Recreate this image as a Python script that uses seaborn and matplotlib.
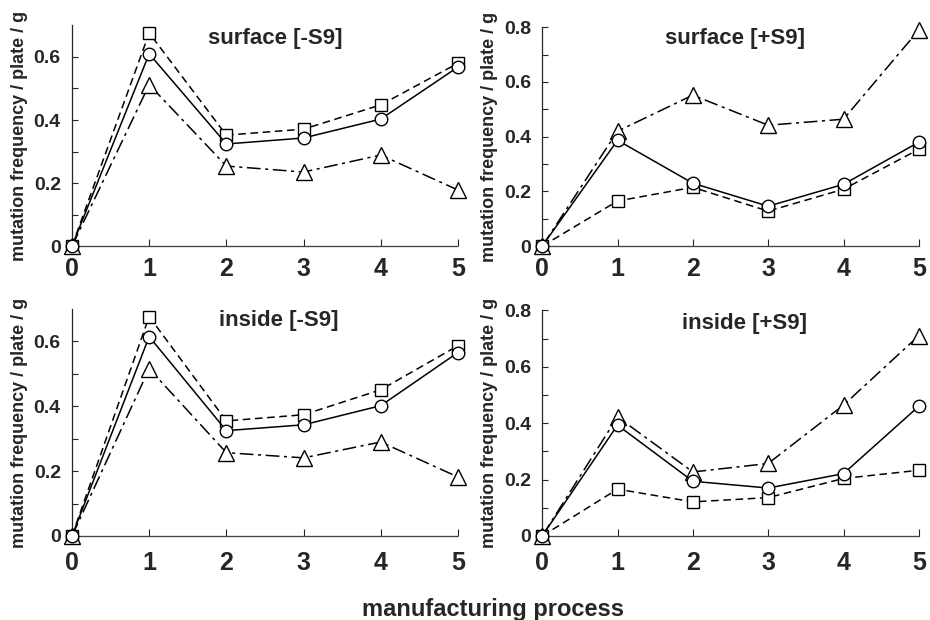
import matplotlib
matplotlib.use("Agg")
import matplotlib.pyplot as plt
import seaborn as sb
import numpy as np

# manufacturing process steps
steps = [0, 1, 2, 3, 4, 5]

# surface [-S9]
surf_minus_circle = [0, 0.61, 0.324, 0.343, 0.403, 0.568]
surf_minus_square = [0, 0.676, 0.352, 0.371, 0.448, 0.580]
surf_minus_triangle = [0, 0.512, 0.254, 0.235, 0.289, 0.178]

# surface [+S9]
surf_plus_circle = [0, 0.387, 0.230, 0.146, 0.226, 0.380]
surf_plus_square = [0, 0.165, 0.215, 0.128, 0.208, 0.354]
surf_plus_triangle = [0, 0.420, 0.552, 0.442, 0.464, 0.790]

# inside [-S9]
ins_minus_circle = [0, 0.615, 0.325, 0.343, 0.402, 0.566]
ins_minus_square = [0, 0.677, 0.355, 0.374, 0.451, 0.587]
ins_minus_triangle = [0, 0.516, 0.257, 0.241, 0.290, 0.182]

# inside [+S9]
ins_plus_circle = [0, 0.393, 0.194, 0.170, 0.221, 0.460]
ins_plus_square = [0, 0.166, 0.121, 0.136, 0.204, 0.233]
ins_plus_triangle = [0, 0.422, 0.227, 0.257, 0.464, 0.710]

titles = ["surface [-S9]", "surface [+S9]", "inside [-S9]", "inside [+S9]"]
ylabel = "mutation frequency / plate / g"
xlabel = "manufacturing process"

sb.set_style("ticks")
plt.rcParams["font.family"] = ["Liberation Sans", "DejaVu Sans"]
plt.rcParams["font.weight"] = "bold"

fig = plt.figure(figsize=(9.3, 6.2), dpi=100)
ax_tl = fig.add_axes([0.0774, 0.603, 0.415, 0.356])
ax_tr = fig.add_axes([0.583, 0.603, 0.405, 0.353])
ax_bl = fig.add_axes([0.0774, 0.1355, 0.415, 0.366])
ax_br = fig.add_axes([0.583, 0.1355, 0.405, 0.364])

panels = [
    (ax_tl, surf_minus_circle, surf_minus_square, surf_minus_triangle, 0.7, (0.526, 0.94), 8),
    (ax_tr, surf_plus_circle, surf_plus_square, surf_plus_triangle, 0.8, (0.512, 0.95), 8),
    (ax_bl, ins_minus_circle, ins_minus_square, ins_minus_triangle, 0.7, (0.536, 0.95), 11),
    (ax_br, ins_plus_circle, ins_plus_square, ins_plus_triangle, 0.8, (0.536, 0.94), 11),
]

dashdot = (0, (9, 3, 2, 3))
dashed = (0, (5, 3))

for (ax, circ, sq, tri, ytop, tpos, xpad), title in zip(panels, titles):
    sb.lineplot(x=steps, y=sq, ax=ax, color="black", linewidth=1.1, linestyle=dashed,
                marker="s", markersize=9, markerfacecolor="white", markeredgecolor="black",
                markeredgewidth=1.0, clip_on=False, zorder=3)
    sb.lineplot(x=steps, y=tri, ax=ax, color="black", linewidth=1.1, linestyle=dashdot,
                marker="^", markersize=11, markerfacecolor="white", markeredgecolor="black",
                markeredgewidth=1.0, clip_on=False, zorder=3)
    sb.lineplot(x=steps, y=circ, ax=ax, color="black", linewidth=1.1, linestyle="-",
                marker="o", markersize=9, markerfacecolor="white", markeredgecolor="black",
                markeredgewidth=1.0, clip_on=False, zorder=4)
    ax.set_xlim(0, 5)
    ax.set_ylim(0, ytop)
    ax.set_xticks(steps)
    ax.set_yticks(np.arange(0, ytop + 0.01, 0.2))
    ax.set_yticks(np.arange(0.1, ytop, 0.2), minor=True)
    ax.set_yticklabels(["0" if v == 0 else f"{v:.1f}" for v in np.arange(0, ytop + 0.01, 0.2)])
    ax.tick_params(axis="x", direction="in", length=5, width=0.8, labelsize=18, pad=xpad)
    ax.tick_params(axis="y", which="both", direction="in", length=4, width=0.8,
                   labelsize=14, pad=8)
    for lab in ax.get_xticklabels() + ax.get_yticklabels():
        lab.set_fontweight("bold")
    sb.despine(ax=ax)
    ax.spines["left"].set_linewidth(0.9)
    ax.spines["bottom"].set_linewidth(0.9)
    ax.spines["bottom"].set_color("#444444")
    ax.spines["bottom"].set_linestyle((0, (1, 0.6)))
    ax.set_xlabel("")
    ax.set_ylabel(ylabel, fontsize=13, fontweight="bold", labelpad=4)
    ax.text(tpos[0], tpos[1], title, transform=ax.transAxes, ha="center", va="center",
            fontsize=16, fontweight="bold")

fig.text(0.53, 0.017, xlabel, ha="center", va="center", fontsize=17, fontweight="bold")

plt.savefig("out.png", dpi=100)
